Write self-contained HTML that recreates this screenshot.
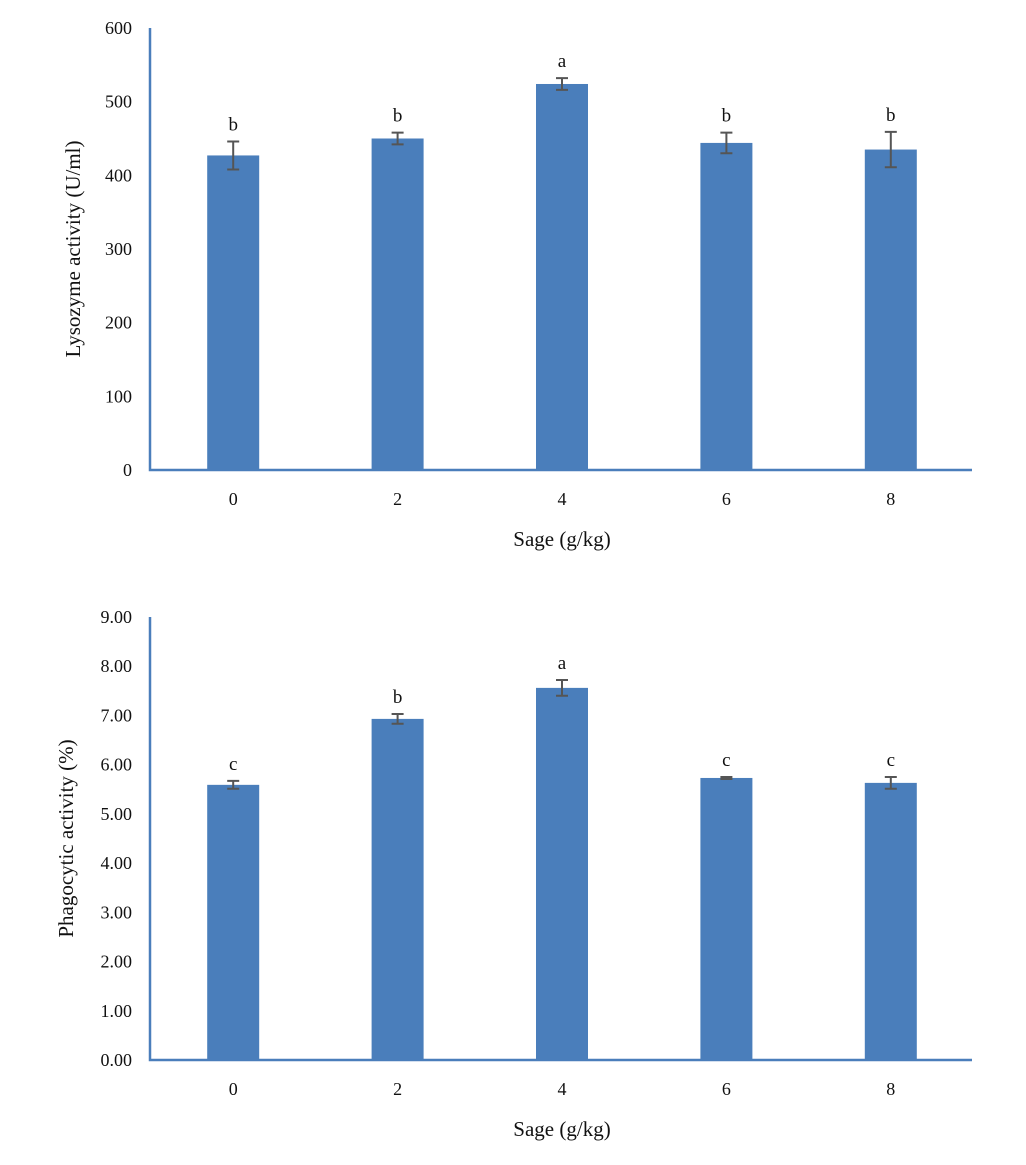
<!DOCTYPE html>
<html><head><meta charset="utf-8"><style>
body{margin:0;background:#fff;}
svg text{font-family:"Liberation Serif",serif;fill:#111;}
</style></head><body>
<svg id="c" width="1026" height="1160"></svg>
<script>
const categories=["0","2","4","6","8"];
const lysoValues=[427,450,524,444,435];
const lysoErrors=[19,8,8,14,24];
const lysoLetters=["b","b","a","b","b"];
const lysoTicks=[0,100,200,300,400,500,600];
const phagoValues=[5.59,6.93,7.56,5.73,5.63];
const phagoErrors=[0.08,0.1,0.16,0.02,0.12];
const phagoLetters=["c","b","a","c","c"];
const phagoTicks=[0,1,2,3,4,5,6,7,8,9];

const NS="http://www.w3.org/2000/svg";
const svg=document.getElementById('c');
function mk(tag,attrs,parent){const e=document.createElementNS(NS,tag);for(const k in attrs)e.setAttribute(k,attrs[k]);(parent||svg).appendChild(e);return e;}

function drawChart(o){
  const g=mk('g',{});
  
  
  const x0=150,x1=972,yTop=o.yTop,yBot=o.yBot,max=o.ticks[o.ticks.length-1];
  const y=v=>yBot-(v/max)*(yBot-yTop);
  const band=(x1-x0)/categories.length;
  const xc=i=>x0+band*(i+0.5)+1;
  o.ticks.forEach(t=>{
    const tx=mk('text',{x:132,y:y(t)+6,'text-anchor':'end','font-size':18},g);
    tx.textContent=o.fmt(t);
    
    
  });
  categories.forEach((c,i)=>{
    const v=o.values[i],e=o.errors[i],cx=xc(i);
    const r=mk('rect',{x:cx-26,y:y(v),width:52,height:yBot-y(v),fill:'#4a7ebb'},g);
    
    
    const eb=mk('path',{d:`M${cx-6},${y(v+e)}H${cx+6}M${cx},${y(v+e)}V${y(v-e)}M${cx-6},${y(v-e)}H${cx+6}`,stroke:'#555','stroke-width':2,fill:'none'},g);
    
    
    const lt=mk('text',{x:cx,y:y(v+e)-11,'text-anchor':'middle','font-size':19},g);
    lt.textContent=o.letters[i];
    
    
    const xl=mk('text',{x:cx,y:yBot+35,'text-anchor':'middle','font-size':18},g);
    xl.textContent=c;
    
    
  });
  const ax=mk('path',{d:`M${x0},${yTop}V${yBot}H${x1}`,stroke:'#4a7ebb','stroke-width':2.5,fill:'none'},g);
  
  
  const xt=mk('text',{x:562,y:yBot+76,'text-anchor':'middle','font-size':21},g);
  xt.textContent='Sage (g/kg)';
  
  
  const cy=(yTop+yBot)/2;
  const yt=mk('text',{x:o.ytX,y:cy,'text-anchor':'middle','font-size':21,transform:`rotate(-90 ${o.ytX} ${cy})`},g);
  yt.textContent=o.ytitle;
  
  
}
drawChart({name:'lysozyme-chart',yTop:28,yBot:470,ticks:lysoTicks,values:lysoValues,errors:lysoErrors,letters:lysoLetters,fmt:t=>String(t),ytitle:'Lysozyme activity (U/ml)',ytX:80});
drawChart({name:'phagocytic-chart',yTop:617,yBot:1060,ticks:phagoTicks,values:phagoValues,errors:phagoErrors,letters:phagoLetters,fmt:t=>t.toFixed(2),ytitle:'Phagocytic activity (%)',ytX:73});
</script>
</body></html>
